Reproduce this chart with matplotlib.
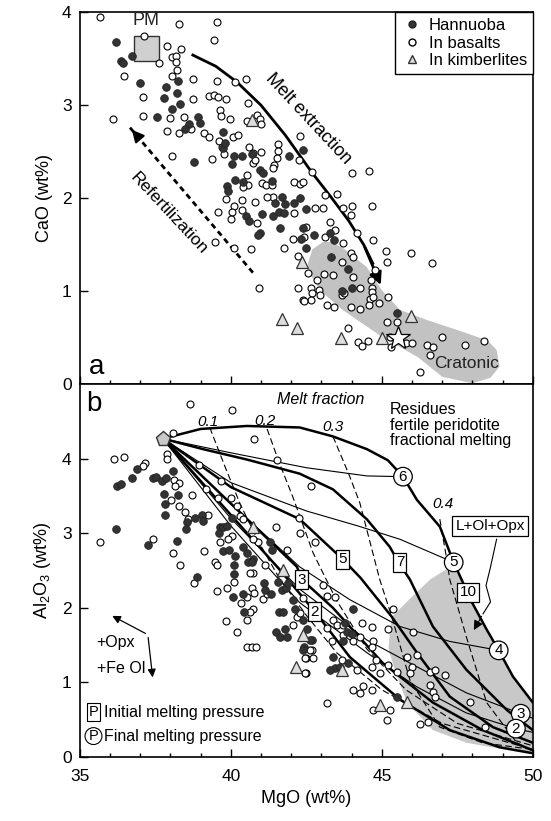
import matplotlib.pyplot as plt
from matplotlib.ticker import MultipleLocator
from matplotlib.lines import Line2D

plt.rcParams['font.family'] = ['Liberation Sans', 'DejaVu Sans']
plt.rcParams['mathtext.fontset'] = 'custom'
plt.rcParams['mathtext.rm'] = 'Liberation Sans'

# ---------------- panel a : CaO vs MgO ----------------
a_hann_x = [36.19, 36.72, 36.36, 36.42, 36.99, 37.85, 38.25, 38.21, 37.78, 38.31, 38.05, 37.55, 38.9, 38.97,
            38.6, 38.48, 39.74, 39.74, 39.8, 40.1, 40.36, 40.03, 40.7, 41.92, 42.38, 38.77, 40.96, 41.06, 40.13,
            40.4, 39.87, 39.9, 41.36, 41.69, 42.28, 41.46, 41.8, 42.09, 42.48, 41.6, 41.76, 40.5, 40.6, 41.03,
            41.4, 41.62, 40.96, 40.9, 42.32, 42.48, 42.75, 42.38, 43.28, 43.41, 43.31, 43.87, 44.0, 43.68, 45.5]
a_hann_y = [3.68, 3.53, 3.48, 3.45, 3.24, 3.20, 3.26, 3.13, 3.08, 3.01, 2.96, 2.87, 2.87, 2.81,
            2.80, 2.75, 2.71, 2.54, 2.59, 2.46, 2.46, 2.37, 2.48, 2.46, 2.52, 2.39, 2.30, 2.27, 2.20,
            2.18, 2.13, 2.08, 2.19, 2.01, 2.00, 1.95, 1.94, 1.95, 1.88, 1.85, 1.84, 1.81, 1.76, 1.83,
            1.81, 1.68, 1.63, 1.60, 1.56, 1.47, 1.60, 1.68, 1.63, 1.55, 1.37, 1.24, 1.03, 1.00, 0.77]

a_bas_x = [35.68, 38.28, 39.54, 39.44, 37.12, 37.62, 37.88, 38.34, 38.05, 38.18, 38.18, 38.2, 38.05, 38.74,
           39.54, 40.13, 40.5, 36.46, 37.09, 38.74, 39.27, 39.44, 39.57, 39.83, 37.09, 37.98, 38.44, 37.88,
           38.28, 36.1, 39.64, 39.67, 39.97, 40.56, 40.85, 40.97, 41.0, 40.55, 39.1, 39.27, 38.68, 40.07,
           40.23, 39.6, 39.7, 39.77, 39.37, 40.6, 40.73, 40.73, 40.8, 41.0, 41.56, 41.56, 41.52, 41.42,
           41.39, 42.28, 42.25, 42.08, 42.28, 42.7, 38.05, 40.53, 40.56, 40.4, 41.03, 41.16, 41.36, 41.39,
           39.83, 40.1, 40.03, 40.0, 40.36, 40.79, 41.19, 40.36, 39.57, 40.86, 42.08, 42.48, 42.05, 41.76,
           40.66, 40.1, 39.47, 42.22, 42.55, 40.93, 42.22, 42.65, 42.68, 42.38, 42.65, 43.11, 43.5, 42.78,
           43.05, 43.7, 44.0, 43.97, 44.67, 43.28, 43.44, 43.11, 43.7, 42.42, 44.17, 44.7, 43.97, 44.04,
           45.13, 45.17, 45.96, 46.66, 43.68, 44.77, 42.85, 43.08, 43.38, 44.04, 44.64, 44.67, 44.27, 43.68,
           43.75, 44.67, 44.6, 44.7, 44.9, 44.57, 45.2, 43.97, 44.27, 43.18, 43.41, 42.91, 42.95, 42.42,
           45.17, 45.5, 45.26, 45.3, 45.8, 46.0, 46.5, 46.7, 46.6, 46.26, 47.0, 47.75, 48.38, 43.87, 44.2,
           44.34, 44.54, 42.38, 44.0, 44.57]
a_bas_y = [3.95, 3.87, 3.90, 3.70, 3.75, 3.45, 3.64, 3.61, 3.52, 3.53, 3.47, 3.38, 3.31, 3.28,
           3.26, 3.25, 3.28, 3.32, 3.09, 3.07, 3.10, 3.11, 3.09, 3.07, 2.88, 2.86, 2.87, 2.72,
           2.70, 2.85, 2.95, 2.89, 2.85, 3.02, 2.90, 2.85, 2.80, 2.83, 2.70, 2.66, 2.75, 2.66,
           2.68, 2.62, 2.55, 2.48, 2.42, 2.55, 2.49, 2.38, 2.41, 2.50, 2.58, 2.51, 2.43, 2.36,
           2.33, 2.67, 2.41, 2.17, 2.15, 2.28, 2.45, 2.25, 2.14, 2.12, 2.16, 2.14, 2.14, 2.01,
           1.99, 1.92, 1.85, 1.78, 1.98, 1.96, 2.01, 1.87, 1.85, 1.73, 1.84, 1.69, 1.56, 1.46,
           1.45, 1.47, 1.53, 1.38, 1.20, 1.03, 1.04, 1.03, 0.98, 0.91, 0.91, 2.03, 2.05, 1.89,
           1.90, 1.89, 1.92, 1.82, 1.92, 1.74, 1.66, 1.58, 1.52, 1.58, 1.63, 1.55, 1.41, 1.37,
           1.43, 1.31, 1.41, 1.30, 1.31, 1.23, 1.12, 1.19, 1.17, 1.15, 1.12, 1.04, 1.03, 0.96,
           0.98, 0.99, 0.92, 0.94, 0.87, 0.85, 0.94, 0.83, 0.81, 0.85, 0.83, 1.01, 0.96, 0.90,
           0.67, 0.67, 0.51, 0.40, 0.44, 0.44, 0.42, 0.40, 0.31, 0.13, 0.51, 0.42, 0.47, 0.61, 0.45,
           0.41, 0.46, 2.17, 2.27, 2.29]

a_kimb_x = [40.7, 42.35, 41.7, 42.2, 45.95, 43.65, 45.0]
a_kimb_y = [2.84, 1.31, 0.70, 0.61, 0.73, 0.50, 0.50]

pm_x, pm_y = [37.2], [3.62]
star_x, star_y = [45.55], [0.50]

craton_x = [42.55, 42.7, 43.05, 43.3, 43.7, 44.5, 45.0, 45.6, 46.5, 47.8, 48.5, 48.8, 48.9, 48.6,
            48.0, 47.0, 46.2, 45.0, 43.7, 42.95, 42.6]
craton_y = [1.30, 1.45, 1.53, 1.53, 1.47, 1.26, 1.01, 0.80, 0.69, 0.55, 0.47, 0.37, 0.19, 0.07,
            0.01, 0.08, 0.29, 0.51, 0.80, 1.01, 1.20]

melt_ext_x = [38.74, 39.5, 40.2, 41.0, 41.8, 42.7, 43.3, 43.9, 44.4, 44.7, 45.0]
melt_ext_y = [3.54, 3.42, 3.25, 3.0, 2.68, 2.27, 2.02, 1.76, 1.50, 1.30, 1.04]
refert_x = [40.73, 36.66]
refert_y = [1.20, 2.76]

# ---------------- panel b : Al2O3 vs MgO ----------------
b_hann_x = [36.89, 36.72, 36.23, 36.36, 37.42, 37.52, 37.72, 37.85, 38.08, 37.78, 38.25, 37.81, 37.81, 38.54,
            38.51, 38.81, 39.04, 39.07, 39.64, 39.74, 39.87, 39.6, 40.03, 36.19, 38.21, 37.25, 39.74, 39.94,
            40.13, 40.4, 40.53, 40.73, 40.56, 40.7, 40.1, 41.29, 41.36, 38.87, 40.1, 41.09, 41.13, 41.56,
            41.69, 41.82, 41.89, 40.07, 40.4, 41.32, 41.59, 41.72, 42.05, 42.12, 40.43, 41.49, 41.62, 41.79,
            41.85, 42.52, 42.68, 42.42, 42.38, 44.04, 43.77, 43.84, 44.0, 43.71, 43.38, 43.44, 43.28, 43.61,
            43.87, 45.5, 42.38, 42.62]
b_hann_y = [3.86, 3.74, 3.63, 3.66, 3.74, 3.76, 3.70, 3.74, 3.84, 3.53, 3.52, 3.39, 3.25, 3.15,
            3.06, 3.21, 3.25, 3.16, 3.08, 3.09, 3.10, 3.01, 3.20, 3.06, 2.90, 2.85, 2.76, 2.78,
            2.69, 2.81, 2.74, 2.65, 2.62, 2.61, 2.58, 2.88, 2.78, 2.42, 2.45, 2.34, 2.24, 2.35,
            2.24, 2.27, 2.34, 2.14, 2.18, 2.18, 1.95, 1.95, 2.11, 1.99, 1.94, 1.68, 1.61, 1.71,
            1.61, 1.71, 1.57, 1.47, 1.44, 1.98, 1.80, 1.67, 1.65, 1.55, 1.34, 1.20, 1.17, 1.21,
            1.26, 0.81, 1.84, 1.57]

b_bas_x = [38.64, 40.03, 40.76, 38.08, 37.88, 37.88, 36.13, 36.46, 37.15, 37.09, 38.11, 38.28, 38.15, 38.71,
           38.94, 39.67, 39.17, 39.57, 40.0, 40.2, 38.01, 38.28, 38.48, 38.58, 39.24, 40.03, 39.9, 39.64,
           40.3, 40.4, 40.9, 41.13, 40.73, 40.63, 41.52, 41.49, 42.28, 42.78, 42.65, 42.25, 41.85, 35.66,
           37.42, 38.08, 38.31, 39.1, 39.47, 39.54, 40.73, 38.77, 39.54, 39.87, 40.1, 40.33, 40.53, 40.7,
           40.76, 41.06, 41.19, 40.73, 40.63, 40.53, 40.2, 40.53, 40.7, 40.83, 42.19, 42.05, 42.48, 42.48,
           42.68, 39.83, 43.05, 43.18, 43.44, 42.38, 42.28, 43.18, 43.38, 43.51, 43.71, 44.34, 44.67, 45.2,
           45.36, 46.03, 44.27, 44.04, 44.7, 44.67, 43.34, 43.71, 42.45, 42.62, 43.68, 44.17, 44.8, 44.67,
           44.93, 45.2, 45.5, 45.83, 46.0, 46.16, 45.93, 46.59, 46.75, 47.09, 46.59, 46.69, 46.75, 47.91,
           44.04, 44.27, 44.37, 44.67, 43.18, 44.7, 45.26, 45.17, 46.26, 46.53, 48.41, 42.72, 42.45]
b_bas_y = [4.73, 4.66, 4.27, 4.35, 4.06, 4.00, 4.00, 4.03, 3.95, 3.90, 3.72, 3.67, 3.63, 3.51,
           3.91, 3.70, 3.59, 3.48, 3.48, 3.37, 3.45, 3.37, 3.28, 3.19, 3.24, 2.96, 2.92, 2.88,
           3.23, 3.19, 2.88, 2.58, 2.47, 2.47, 3.98, 3.09, 3.01, 2.88, 3.63, 3.21, 2.78, 2.88,
           2.93, 2.73, 2.57, 2.76, 2.61, 2.58, 2.93, 2.33, 2.22, 2.27, 2.35, 2.07, 2.15, 2.27,
           2.20, 2.12, 2.18, 1.99, 1.94, 1.84, 1.67, 1.48, 1.48, 1.48, 1.88, 1.77, 1.33, 1.13,
           1.44, 1.83, 2.31, 2.16, 2.15, 2.13, 1.93, 1.73, 1.84, 1.77, 1.77, 1.80, 1.75, 1.71,
           1.98, 1.68, 1.61, 1.55, 1.55, 1.47, 1.55, 1.64, 1.33, 1.44, 1.30, 1.17, 1.30, 1.21,
           1.13, 1.24, 1.14, 1.34, 1.21, 1.37, 1.13, 1.14, 1.17, 1.10, 0.97, 0.87, 0.81, 0.74,
           0.90, 0.86, 0.95, 0.90, 0.73, 0.63, 0.63, 0.50, 0.44, 0.47, 0.40, 1.33, 1.13]

b_kimb_x = [40.73, 41.72, 42.38, 42.15, 44.93, 43.68, 45.83]
b_kimb_y = [3.09, 2.51, 1.64, 1.21, 0.70, 1.17, 0.74]

start_x, start_y = [37.75], [4.27]

# thick lines: initial melting pressure (10 is the outer envelope)
p10_x = [37.75, 39.0, 40.53, 42.28, 43.38, 44.5, 45.2, 45.7, 46.16, 46.92, 47.38, 47.99, 48.47, 48.87, 49.34, 50.0]
p10_y = [4.27, 4.40, 4.44, 4.42, 4.30, 4.13, 3.98, 3.76, 3.45, 3.09, 2.61, 2.07, 1.71, 1.43, 1.08, 0.73]
p7_x = [37.75, 39.07, 40.53, 42.28, 43.38, 44.5, 45.26, 45.6, 45.93, 46.69, 47.8, 49.14, 50.0]
p7_y = [4.27, 4.13, 3.99, 3.80, 3.59, 3.19, 2.82, 2.58, 2.38, 1.75, 1.17, 0.63, 0.36]
p5_x = [37.75, 40.0, 42.28, 43.71, 44.3, 45.33, 46.16, 47.25, 48.68, 50.0]
p5_y = [4.27, 3.62, 3.19, 2.65, 2.40, 1.88, 1.40, 0.81, 0.40, 0.19]
p3_x = [37.75, 42.19, 42.35, 43.38, 45.03, 46.69, 48.34, 50.0]
p3_y = [4.27, 2.55, 2.38, 2.00, 1.26, 0.73, 0.36, 0.09]
p2_x = [37.75, 41.62, 42.78, 43.94, 45.6, 47.25, 48.9, 50.0]
p2_y = [4.27, 2.51, 1.95, 1.34, 0.77, 0.36, 0.13, 0.05]

# thin lines: final melting pressure
f6_x = [37.75, 40.0, 42.5, 44.5, 45.7]
f6_y = [4.27, 4.08, 3.88, 3.77, 3.76]
f5_x = [37.75, 40.0, 42.5, 44.2, 45.6, 47.38]
f5_y = [4.27, 3.68, 3.30, 3.10, 2.92, 2.61]
f4_x = [37.75, 40.0, 42.28, 43.94, 45.6, 47.25, 48.87]
f4_y = [4.27, 3.40, 2.55, 2.11, 1.75, 1.55, 1.43]
f3_x = [37.75, 40.0, 42.28, 44.5, 46.16, 47.8, 49.6, 50.0]
f3_y = [4.27, 3.20, 2.25, 1.57, 1.21, 0.86, 0.58, 0.52]
f2_x = [37.75, 40.0, 42.28, 44.5, 46.16, 47.8, 49.44, 50.0]
f2_y = [4.27, 3.10, 2.07, 1.40, 0.94, 0.59, 0.38, 0.33]

# dashed lines: melt fraction
mf1_x = [39.3, 39.8, 40.3, 40.9, 41.6, 42.5, 43.5, 45.0, 47.0, 50.0]
mf1_y = [4.42, 3.90, 3.40, 2.90, 2.40, 1.90, 1.40, 0.90, 0.45, 0.10]
mf2_x = [41.2, 41.6, 42.05, 42.72, 43.5, 44.5, 45.8, 47.5, 50.0]
mf2_y = [4.40, 3.95, 3.49, 2.74, 2.10, 1.45, 0.90, 0.45, 0.15]
mf3_x = [43.38, 43.9, 44.27, 44.93, 45.33, 45.93, 46.92, 48.34, 50.0]
mf3_y = [4.30, 3.80, 3.41, 2.38, 1.88, 1.03, 0.40, 0.19, 0.10]
mf4_x = [46.92, 47.15, 47.25, 47.8, 48.47, 49.47, 50.0]
mf4_y = [3.19, 2.65, 2.38, 1.61, 0.73, 0.19, 0.08]

# L+Ol+Opx field
lop_x = [45.33, 46.0, 46.6, 47.1, 47.38, 47.99, 48.47, 48.87, 49.34, 50.0, 50.0, 49.47, 47.81, 46.69,
         45.83, 45.43, 45.22, 45.26, 45.33]
lop_y = [1.88, 2.15, 2.38, 2.51, 2.61, 2.07, 1.71, 1.43, 1.08, 0.73, 0.05, 0.07, 0.19, 0.36,
         0.73, 1.17, 1.45, 1.65, 1.88]
leader_x = [48.8, 48.6, 48.45, 48.6, 48.35, 48.0]
leader_y = [2.92, 2.55, 2.30, 2.08, 1.92, 1.67]

mf_labels = ['0.1', '0.2', '0.3', '0.4']
mf_lab_x = [39.24, 41.13, 43.38, 47.02]
mf_lab_y = [4.50, 4.51, 4.42, 3.39]
sq_labels = ['2', '3', '5', '7', '10']
sq_x = [42.78, 42.35, 43.71, 45.6, 47.85]
sq_y = [1.95, 2.38, 2.65, 2.61, 2.21]
ci_labels = ['6', '5', '4', '3', '2']
ci_x = [45.7, 47.38, 48.87, 49.6, 49.44]
ci_y = [3.76, 2.61, 1.43, 0.58, 0.38]

fig = plt.figure(figsize=(5.51, 8.21), dpi=100)
axa = fig.add_axes([0.145, 0.532, 0.822, 0.453])
axb = fig.add_axes([0.145, 0.078, 0.822, 0.454])

for ax in (axa, axb):
    ax.set_xlim(35, 50)
    ax.xaxis.set_major_locator(MultipleLocator(5))
    ax.xaxis.set_minor_locator(MultipleLocator(1))
    ax.yaxis.set_major_locator(MultipleLocator(1))
    ax.tick_params(which='both', direction='in', labelsize=12.5, width=1)
    ax.tick_params(which='major', length=6)
    ax.tick_params(which='minor', length=3)
    ax.tick_params(axis='x', pad=9)
    ax.tick_params(axis='y', pad=6)
    for s in ax.spines.values():
        s.set_linewidth(1.2)

hann_kw = dict(ls='none', marker='o', ms=5.5, mfc='#333333', mec='#222222', mew=0.6, zorder=4)
bas_kw = dict(ls='none', marker='o', ms=5, mfc='white', mec='black', mew=0.8, zorder=4)
kimb_kw = dict(ls='none', marker='^', ms=9, mfc='#dddddd', mec='#333333', mew=0.9, zorder=5)

# ---- panel a ----
axa.set_ylim(0, 4)
axa.tick_params(labelbottom=False)
axa.fill(craton_x, craton_y, color='#c2c2c2', lw=0, zorder=1)
axa.plot(a_bas_x, a_bas_y, **bas_kw)
axa.plot(a_hann_x, a_hann_y, **hann_kw)
axa.plot(a_kimb_x, a_kimb_y, **kimb_kw)
axa.plot(pm_x, pm_y, ls='none', marker='s', ms=18, mfc='#d0d0d0', mec='#333333', mew=1, zorder=3)
axa.text(pm_x[0], pm_y[0] + 0.2, 'PM', ha='center', va='bottom', fontsize=13, color='#222222')
axa.plot(star_x, star_y, ls='none', marker='*', ms=18, mfc='white', mec='black', mew=0.9, zorder=6)

axa.plot(melt_ext_x[:-1], melt_ext_y[:-1], color='black', lw=2, zorder=3)
axa.annotate('', xy=(melt_ext_x[-1], melt_ext_y[-1]), xytext=(melt_ext_x[-3], melt_ext_y[-3]),
             arrowprops=dict(arrowstyle='-|>', color='black', lw=2, mutation_scale=18), zorder=3)
axa.text(42.55, 2.86, 'Melt extraction', rotation=-47, ha='center', va='center', fontsize=13,
         rotation_mode='anchor')

axa.plot(refert_x, refert_y, color='black', lw=2, ls=(0, (2, 1.5)), zorder=3)
axa.annotate('', xy=(refert_x[1], refert_y[1]), xytext=(36.95, 2.65),
             arrowprops=dict(arrowstyle='-|>', color='black', lw=1.5, mutation_scale=18), zorder=3)
axa.text(37.95, 1.84, 'Refertilization', rotation=-47, ha='center', va='center', fontsize=12.5,
         rotation_mode='anchor')
axa.text(47.8, 0.22, 'Cratonic', ha='center', va='center', fontsize=12.5, color='#222222', zorder=7)
axa.text(35.3, 0.05, 'a', fontsize=20, ha='left', va='bottom')
axa.set_ylabel('CaO (wt%)', fontsize=13, labelpad=6)

handles = [Line2D([], [], ls='none', marker='o', ms=5, mfc='#333333', mec='#222222'),
           Line2D([], [], ls='none', marker='o', ms=5, mfc='white', mec='black'),
           Line2D([], [], ls='none', marker='^', ms=6, mfc='#dddddd', mec='#333333')]
leg = axa.legend(handles, ['Hannuoba', 'In basalts', 'In kimberlites'], loc='upper right',
                 bbox_to_anchor=(1, 1), borderaxespad=0, fancybox=False, edgecolor='black',
                 fontsize=12, handletextpad=0.3, handlelength=1.4, labelspacing=0.15, framealpha=1,
                 borderpad=0.35)
leg.get_frame().set_linewidth(1)

# ---- panel b ----
axb.set_ylim(0, 5)
axb.set_yticks([0, 1, 2, 3, 4])
axb.fill(lop_x, lop_y, color='#c8c8c8', lw=0, zorder=1)
for lx, ly in [(p10_x, p10_y), (p7_x, p7_y), (p5_x, p5_y), (p3_x, p3_y), (p2_x, p2_y)]:
    axb.plot(lx, ly, color='black', lw=1.8, zorder=2)
for lx, ly in [(f6_x, f6_y), (f5_x, f5_y), (f4_x, f4_y), (f3_x, f3_y), (f2_x, f2_y)]:
    axb.plot(lx, ly, color='black', lw=0.8, zorder=2)
for lx, ly in [(mf1_x, mf1_y), (mf2_x, mf2_y), (mf3_x, mf3_y), (mf4_x, mf4_y)]:
    axb.plot(lx, ly, color='black', lw=0.8, ls=(0, (6, 3)), zorder=2)
axb.plot(leader_x[:-1], leader_y[:-1], color='black', lw=0.8, zorder=6)
axb.annotate('', xy=(leader_x[-1], leader_y[-1]), xytext=(leader_x[-2], leader_y[-2]),
             arrowprops=dict(arrowstyle='-|>', color='black', lw=0.8, mutation_scale=14), zorder=6)

axb.plot(b_bas_x, b_bas_y, **bas_kw)
axb.plot(b_hann_x, b_hann_y, **hann_kw)
axb.plot(b_kimb_x, b_kimb_y, **kimb_kw)
axb.plot(start_x, start_y, ls='none', marker='p', ms=11, mfc='#c8c8c8', mec='#333333', mew=1, zorder=6)

for t, x, y in zip(mf_labels, mf_lab_x, mf_lab_y):
    axb.text(x, y, t, fontsize=11, style='italic', ha='center', va='center', zorder=7)
for t, x, y in zip(sq_labels, sq_x, sq_y):
    axb.text(x, y, t, fontsize=11, ha='center', va='center', zorder=7,
             bbox=dict(boxstyle='square,pad=0.15', fc='white', ec='black', lw=0.9))
for t, x, y in zip(ci_labels, ci_x, ci_y):
    axb.text(x, y, t, fontsize=11, ha='center', va='center', zorder=7,
             bbox=dict(boxstyle='circle,pad=0.15', fc='white', ec='black', lw=0.9))
axb.text(48.58, 3.10, 'L+Ol+Opx', fontsize=11, ha='center', va='center', zorder=7,
         bbox=dict(boxstyle='square,pad=0.2', fc='white', ec='black', lw=0.9))

axb.text(42.98, 4.80, 'Melt fraction', fontsize=11.5, style='italic', ha='center', va='center')
axb.text(45.26, 4.45, 'Residues\nfertile peridotite\nfractional melting', fontsize=11.5,
         ha='left', va='center', linespacing=1.05)
axb.text(35.2, 4.73, 'b', fontsize=20, ha='left', va='center')

axb.text(35.55, 1.53, '+Opx', fontsize=11.5, ha='left', va='center')
axb.text(35.55, 1.18, '+Fe Ol', fontsize=11.5, ha='left', va='center')
axb.annotate('', xy=(35.99, 1.91), xytext=(37.25, 1.64),
             arrowprops=dict(arrowstyle='-|>', color='black', lw=0.9, mutation_scale=12))
axb.annotate('', xy=(37.42, 1.03), xytext=(37.25, 1.64),
             arrowprops=dict(arrowstyle='-|>', color='black', lw=0.9, mutation_scale=12))

axb.text(35.45, 0.60, 'P', fontsize=10.5, ha='center', va='center',
         bbox=dict(boxstyle='square,pad=0.12', fc='white', ec='black', lw=0.8))
axb.text(35.8, 0.60, 'Initial melting pressure', fontsize=11.5, ha='left', va='center')
axb.text(35.45, 0.28, 'P', fontsize=10.5, ha='center', va='center',
         bbox=dict(boxstyle='circle,pad=0.1', fc='white', ec='black', lw=0.8))
axb.text(35.8, 0.28, 'Final melting pressure', fontsize=11.5, ha='left', va='center')

axb.set_ylabel(r'Al$_2$O$_3$ (wt%)', fontsize=13, labelpad=6)
axb.set_xlabel('MgO (wt%)', fontsize=13, labelpad=4)

fig.savefig('out.png', dpi=100)
